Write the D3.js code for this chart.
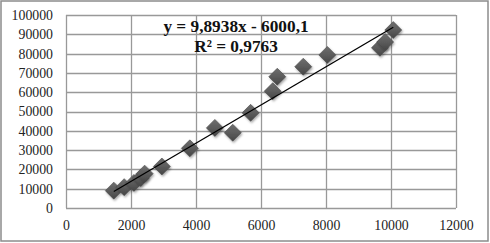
<!DOCTYPE html>
<html>
<head>
<meta charset="utf-8">
<script src="https://cdn.jsdelivr.net/npm/d3@7"></script>
<style>
  body { margin: 0; background: #fff; }
  text { font-family: "Liberation Serif", "Times New Roman", serif; }
</style>
</head>
<body>
<svg id="chart"></svg>
<script>
/* DATA */
const xValues = [1470, 1790, 2090, 2300, 2420, 2950, 3810, 4580, 5130, 5680, 6360, 6500, 7300, 8040, 9660, 9820, 10070];
const yValues = [9000, 10800, 13000, 15500, 17800, 21500, 30900, 41500, 39000, 49300, 60500, 68000, 73200, 79300, 83000, 86000, 92200];
const xTicks = [0, 2000, 4000, 6000, 8000, 10000, 12000];
const yTicks = [0, 10000, 20000, 30000, 40000, 50000, 60000, 70000, 80000, 90000, 100000];
const slope = 9.8938, intercept = -6000.1;
const eqLabel = "y = 9,8938x - 6000,1";
const r2Label = "R² = 0,9763";

/* CONSTANTS */
const width = 490, height = 243;
const margin = { left: 66, right: 34, top: 15, bottom: 35 };

const svg = d3.select("#chart").attr("width", width).attr("height", height);

// outer frame
svg.append("rect")
  .attr("x", 1).attr("y", 1)
  .attr("width", width - 3).attr("height", height - 3)
  .attr("fill", "#fff").attr("stroke", "#8c8c8c").attr("stroke-width", 1.5);

/* SCALES */
const xScale = d3.scaleLinear().domain([0, 12000]).range([margin.left, width - margin.right]);
const yScale = d3.scaleLinear().domain([0, 100000]).range([height - margin.bottom, margin.top]);

// gridlines
svg.append("g").selectAll("line").data(yTicks).join("line")
  .attr("x1", margin.left).attr("x2", width - margin.right)
  .attr("y1", d => Math.round(yScale(d)) + 0.5).attr("y2", d => Math.round(yScale(d)) + 0.5)
  .attr("stroke", "#999").attr("stroke-width", 1.3);
svg.append("g").selectAll("line").data(xTicks).join("line")
  .attr("y1", margin.top).attr("y2", height - margin.bottom)
  .attr("x1", d => Math.round(xScale(d)) + 0.5).attr("x2", d => Math.round(xScale(d)) + 0.5)
  .attr("stroke", "#999").attr("stroke-width", 1.3);

// axes labels
const xAxis = d3.axisBottom(xScale).tickValues(xTicks).tickSize(0).tickPadding(12).tickFormat(d3.format("d"));
svg.append("g")
  .attr("transform", `translate(0,${height - margin.bottom})`)
  .call(xAxis)
  .call(g => g.select(".domain").remove())
  .selectAll("text").attr("font-size", 13.8).attr("fill", "#222")
  .style("font-family", "Liberation Serif, serif");

const yAxis = d3.axisLeft(yScale).tickValues(yTicks).tickSize(0).tickPadding(13).tickFormat(d3.format("d"));
svg.append("g")
  .attr("transform", `translate(${margin.left},0)`)
  .call(yAxis)
  .call(g => g.select(".domain").remove())
  .selectAll("text").attr("font-size", 13.8).attr("fill", "#222")
  .style("font-family", "Liberation Serif, serif");

/* MARKERS */
const defs = svg.append("defs");
const grad = defs.append("linearGradient").attr("id", "dg")
  .attr("x1", "0").attr("y1", "0").attr("x2", "0").attr("y2", "1");
grad.append("stop").attr("offset", "0%").attr("stop-color", "#6e6e6e");
grad.append("stop").attr("offset", "50%").attr("stop-color", "#5c5c5c");
grad.append("stop").attr("offset", "100%").attr("stop-color", "#454545");
const shadow = defs.append("filter").attr("id", "sh").attr("x", "-50%").attr("y", "-50%").attr("width", "200%").attr("height", "200%");
shadow.append("feDropShadow").attr("dx", 1).attr("dy", 1.5).attr("stdDeviation", 1.2).attr("flood-color", "#000").attr("flood-opacity", 0.35);

const points = xValues.map((x, i) => ({ x, y: yValues[i] }));
const s = 8.5;
svg.append("g").selectAll("path").data(points).join("path")
  .attr("d", d => {
    const cx = xScale(d.x), cy = yScale(d.y);
    return `M${cx},${cy - s}L${cx + s},${cy}L${cx},${cy + s}L${cx - s},${cy}Z`;
  })
  .attr("fill", "url(#dg)")
  .attr("stroke", "#4a4a4a").attr("stroke-width", 0.6)
  .attr("filter", "url(#sh)");

/* TRENDLINE */
const xMin = d3.min(xValues), xMax = d3.max(xValues);
svg.append("line")
  .attr("x1", xScale(xMin)).attr("y1", yScale(slope * xMin + intercept))
  .attr("x2", xScale(xMax)).attr("y2", yScale(slope * xMax + intercept))
  .attr("stroke", "#000").attr("stroke-width", 1.3);

/* EQUATION */
svg.append("text").attr("x", 236).attr("y", 32).attr("text-anchor", "middle")
  .attr("font-size", 17.3).attr("font-weight", "bold").attr("fill", "#111").text(eqLabel);
svg.append("text").attr("x", 236).attr("y", 52).attr("text-anchor", "middle")
  .attr("font-size", 17.3).attr("font-weight", "bold").attr("fill", "#111").text(r2Label);
</script>
</body>
</html>
